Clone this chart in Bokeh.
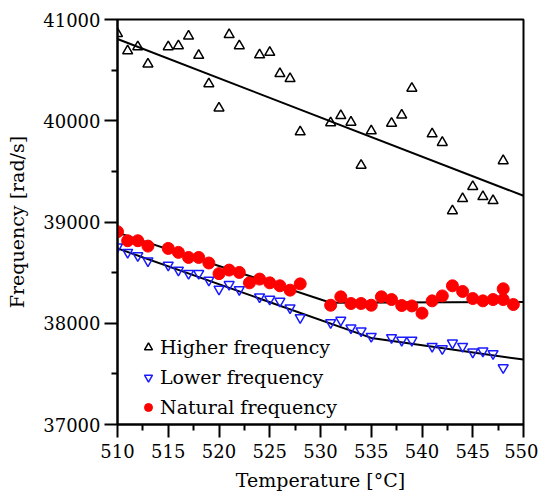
from bokeh.plotting import figure
from bokeh.models import FixedTicker, Range1d, Legend, LegendItem
from bokeh.embed import file_html
from bokeh.resources import INLINE

# Higher frequency (black up-triangles)
high_T = [510, 511, 512, 513, 515, 516, 517, 518, 519, 520, 521, 522, 524, 525, 526, 527, 528,
          531, 532, 533, 534, 535, 537, 538, 539, 541, 542, 543, 544, 545, 546, 547, 548]
high_F = [40860, 40690, 40730, 40560, 40730, 40740, 40835, 40645, 40365, 40125, 40850, 40740,
          40650, 40675, 40465, 40415, 39890, 39980, 40050, 39985, 39560, 39900, 39975, 40055,
          40320, 39870, 39785, 39110, 39230, 39350, 39250, 39210, 39605]
high_fit_T = [510, 550]
high_fit_F = [40807, 39259]

# Lower frequency (blue down-triangles)
low_T = [510, 511, 512, 513, 515, 516, 517, 518, 519, 520, 521, 522, 524, 525, 526, 527, 528,
         531, 532, 533, 534, 535, 537, 538, 539, 541, 542, 543, 544, 545, 546, 547, 548]
low_F = [38755, 38700, 38667, 38617, 38574, 38525, 38492, 38492, 38426, 38338, 38383, 38333,
         38261, 38238, 38218, 38152, 38056, 38007, 38030, 37954, 37924, 37871, 37858, 37832,
         37832, 37772, 37749, 37805, 37772, 37716, 37726, 37700, 37561]
low_fit_T = [510, 535, 550]
low_fit_F = [38739, 37855, 37641]

# Natural frequency (red circles)
nat_T = [510, 511, 512, 513, 515, 516, 517, 518, 519, 520, 521, 522, 523, 524, 525, 526, 527, 528,
         531, 532, 533, 534, 535, 536, 537, 538, 539, 540, 541, 542, 543, 544, 545, 546, 547,
         548, 548, 549]
nat_F = [38904, 38815, 38815, 38762, 38739, 38700, 38650, 38650, 38595, 38490, 38525, 38502,
         38399, 38436, 38399, 38370, 38327, 38389, 38178, 38261, 38195, 38195, 38178, 38261,
         38234, 38175, 38171, 38100, 38221, 38270, 38370, 38314, 38244, 38221, 38234,
         38340, 38234, 38185]
nat_fit_T = [510, 531, 550]
nat_fit_F = [38895, 38203, 38210]

x_ticks = [510, 515, 520, 525, 530, 535, 540, 545, 550]
x_minor = [512.5, 517.5, 522.5, 527.5, 532.5, 537.5, 542.5, 547.5]
y_ticks = [37000, 38000, 39000, 40000, 41000]
y_minor = [37500, 38500, 39500, 40500]

FONT = "DejaVu Serif"

p = figure(width=538, height=496, output_backend="svg", toolbar_location=None,
           x_range=Range1d(510, 550), y_range=Range1d(37000, 41000),
           min_border_left=117, min_border_right=15, min_border_top=19, min_border_bottom=72)
p.background_fill_color = "white"
p.border_fill_color = "white"
p.xgrid.visible = False
p.ygrid.visible = False
p.outline_line_color = "black"
p.outline_line_width = 2
p.outline_line_alpha = 1

# fit lines
p.line(high_fit_T, high_fit_F, line_color="black", line_width=2)
p.line(low_fit_T, low_fit_F, line_color="black", line_width=2)
p.line(nat_fit_T, nat_fit_F, line_color="black", line_width=2)

r_high = p.scatter(high_T, high_F, marker="triangle", size=10, fill_color=None,
                   line_color="black", line_width=1.5)
r_low = p.scatter(low_T, low_F, marker="inverted_triangle", size=10, fill_color=None,
                  line_color="#1a1aff", line_width=1.5)
r_nat = p.scatter(nat_T, nat_F, marker="circle", size=12, fill_color="#ff0000",
                  line_color="#ff0000")

legend = Legend(items=[
    LegendItem(label="Higher frequency", renderers=[r_high]),
    LegendItem(label="Lower frequency", renderers=[r_low]),
    LegendItem(label="Natural frequency", renderers=[r_nat]),
], location=(21, 3))
legend.border_line_color = None
legend.background_fill_alpha = 0
legend.padding = 0
legend.margin = 0
legend.spacing = 2
legend.glyph_width = 20
legend.glyph_height = 28
legend.label_height = 28
legend.label_standoff = 2
legend.label_text_font = FONT
legend.label_text_font_size = "19px"
legend.label_text_color = "black"
p.add_layout(legend, "center")

for ax in (p.xaxis[0], p.yaxis[0]):
    ax.axis_line_width = 2
    ax.axis_line_color = "black"
    ax.major_tick_line_width = 2
    ax.minor_tick_line_width = 2
    ax.major_tick_in = 0
    ax.minor_tick_in = 0
    ax.major_tick_out = 13
    ax.minor_tick_out = 6
    ax.major_label_text_font = FONT
    ax.major_label_text_font_size = "18px"
    ax.major_label_text_color = "black"
    ax.axis_label_text_font = FONT
    ax.axis_label_text_font_size = "19px"
    ax.axis_label_text_font_style = "normal"
    ax.axis_label_text_color = "black"

p.xaxis.ticker = FixedTicker(ticks=x_ticks, minor_ticks=x_minor)
p.yaxis.ticker = FixedTicker(ticks=y_ticks, minor_ticks=y_minor)
p.xaxis.axis_label = "Temperature [°C]"
p.yaxis.axis_label = "Frequency [rad/s]"
p.xaxis.major_label_standoff = 6
p.yaxis.major_label_standoff = 4
p.xaxis.axis_label_standoff = 8
p.yaxis.axis_label_standoff = 12

open("out.html", "w").write(file_html(p, INLINE))
